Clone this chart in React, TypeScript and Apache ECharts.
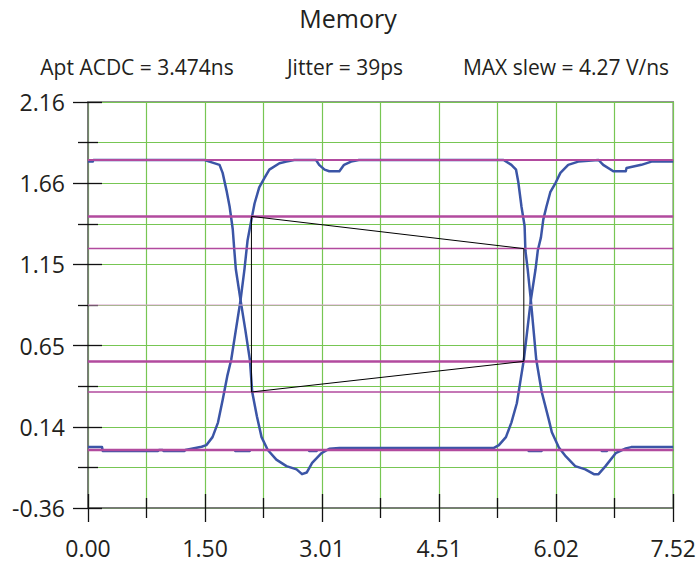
import React, { useEffect, useRef } from 'react';
import * as echarts from 'echarts';

const TITLE = 'Memory';
const SUBTITLES = ['Apt ACDC = 3.474ns', 'Jitter = 39ps', 'MAX slew = 4.27 V/ns'];
const X_TICK_LABELS = ['0.00', '1.50', '3.01', '4.51', '6.02', '7.52'];
const Y_TICK_LABELS = ['-0.36', '0.14', '0.65', '1.15', '1.66', '2.16'];
const X_MIN = 0;
const X_MAX = 7.52;
const X_STEP = 1.504;
const Y_MIN = -0.36;
const Y_MAX = 2.16;
const Y_STEP = 0.504;

// Trace A: high -> falls at first edge -> undershoot -> low -> rises at second edge
const traceAX = [0, 0.06, 0.07, 1.50, 1.56, 1.69, 1.73, 1.78, 1.82, 1.86, 1.88, 1.90, 1.96, 2.02, 2.08, 2.11, 2.17, 2.23, 2.31, 2.42, 2.55, 2.68, 2.75, 2.81, 2.88, 3.00, 3.10, 3.23, 5.21, 5.28, 5.37, 5.44, 5.51, 5.56, 5.60, 5.69, 5.75, 5.78, 5.82, 5.85, 5.89, 5.94, 6.01, 6.07, 6.17, 6.30, 6.56, 6.62, 6.75, 6.91, 6.92, 7.11, 7.24, 7.52];
const traceAY = [1.79, 1.79, 1.80, 1.80, 1.79, 1.77, 1.72, 1.61, 1.51, 1.37, 1.24, 1.12, 0.93, 0.75, 0.56, 0.36, 0.21, 0.08, 0.00, -0.06, -0.10, -0.12, -0.15, -0.14, -0.08, -0.02, 0.008, 0.012, 0.012, 0.03, 0.08, 0.17, 0.29, 0.44, 0.56, 0.93, 1.12, 1.24, 1.32, 1.43, 1.51, 1.60, 1.66, 1.72, 1.77, 1.79, 1.80, 1.77, 1.73, 1.73, 1.75, 1.77, 1.79, 1.79];

// Trace B: low -> rises at first edge -> high -> falls at second edge -> undershoot
const traceBX = [0, 0.18, 0.19, 0.90, 0.91, 0.96, 0.97, 1.24, 1.25, 1.46, 1.52, 1.60, 1.67, 1.73, 1.79, 1.84, 1.96, 2.01, 2.05, 2.10, 2.14, 2.20, 2.27, 2.33, 2.46, 2.55, 2.65, 2.93, 2.97, 3.04, 3.10, 3.23, 3.29, 3.38, 3.48, 5.34, 5.44, 5.50, 5.53, 5.57, 5.61, 5.62, 5.65, 5.69, 5.76, 5.83, 5.92, 5.96, 6.05, 6.14, 6.26, 6.39, 6.50, 6.56, 6.65, 6.78, 6.91, 6.98, 7.52];
const traceBY = [0.018, 0.018, -0.006, -0.006, 0.0, 0.0, -0.006, -0.006, 0.0, 0.02, 0.03, 0.08, 0.17, 0.31, 0.46, 0.56, 0.93, 1.12, 1.30, 1.43, 1.53, 1.63, 1.69, 1.74, 1.78, 1.79, 1.80, 1.80, 1.77, 1.74, 1.73, 1.73, 1.77, 1.79, 1.80, 1.80, 1.77, 1.74, 1.66, 1.51, 1.39, 1.24, 1.12, 0.93, 0.56, 0.36, 0.19, 0.11, 0.015, -0.04, -0.10, -0.12, -0.15, -0.15, -0.10, -0.02, 0.01, 0.018, 0.018];

// Trace C: stays low through the edges
const traceCX = [0, 1.88, 1.89, 2.08, 2.09, 2.83, 2.84, 2.94, 2.95, 5.65, 5.66, 5.83, 5.84, 6.59, 6.60, 6.67, 6.68, 7.52];
const traceCY = [0.0, 0.0, -0.008, -0.008, 0.0, 0.0, -0.008, -0.008, 0.0, 0.0, -0.008, -0.008, 0.0, 0.0, -0.008, -0.008, 0.0, 0.0];

// Threshold levels (V)
const LEVEL_VALUES = [1.80, 1.45, 1.25, 0.90, 0.55, 0.36, 0.00];
const LEVEL_WIDTHS = [2, 2.5, 1.5, 1, 2.5, 1.5, 2.5];

// Aperture polygon
const apertureX = [2.10, 5.60, 5.60, 2.10, 2.10];
const apertureY = [1.45, 1.25, 0.55, 0.36, 1.45];

const FONT = '"Open Sans", "Noto Sans", sans-serif';
const TEXT_COLOR = '#231f20';
const BLUE = '#3b55a6';
const MAGENTA = '#b24a9e';
const GREEN = '#77c653';

const toPts = (xs: number[], ys: number[]) => xs.map((x, i) => [x, ys[i] - Y_MIN]);

export default function App() {
  const ref = useRef<HTMLDivElement>(null);

  useEffect(() => {
    if (!ref.current) return;
    const chart = echarts.init(ref.current, undefined, { renderer: 'svg' });

    const xLabel = (v: number) => {
      const i = Math.round((v - X_MIN) / X_STEP);
      return X_TICK_LABELS[i] ?? '';
    };
    const yLabel = (v: number) => {
      const i = Math.round(v / Y_STEP);
      return Y_TICK_LABELS[i] ?? '';
    };

    const tickStyle = { color: '#111', width: 1.3 };

    const traceSeries = [
      [traceCX, traceCY, 1.8],
      [traceAX, traceAY, 2.5],
      [traceBX, traceBY, 2.5],
    ].map(([xs, ys, w]) => ({
      type: 'line',
      data: toPts(xs as number[], ys as number[]),
      symbol: 'none',
      silent: true,
      z: 2,
      lineStyle: { color: BLUE, width: w as number, join: 'round' },
    }));

    const levelSeries = LEVEL_VALUES.map((v, i) => ({
      type: 'line',
      data: [[X_MIN, v - Y_MIN], [X_MAX, v - Y_MIN]],
      symbol: 'none',
      silent: true,
      z: 3,
      lineStyle: { color: v === 0.9 ? '#d9a3cd' : MAGENTA, width: LEVEL_WIDTHS[i] },
    }));

    const apertureSeries = {
      type: 'line',
      data: toPts(apertureX, apertureY),
      symbol: 'none',
      silent: true,
      z: 4,
      lineStyle: { color: '#000', width: 1 },
    };

    chart.setOption({
      animation: false,
      backgroundColor: '#fff',
      grid: {
        left: 88,
        right: 24,
        top: 102,
        bottom: 56,
        show: true,
        borderColor: '#707070',
        borderWidth: 1.5,
        backgroundColor: 'transparent',
      },
      xAxis: [
        {
          type: 'value',
          position: 'bottom',
          min: X_MIN,
          max: X_MAX,
          interval: X_STEP,
          axisLine: { show: true, onZero: false, lineStyle: { color: '#707070', width: 1.5 } },
          axisTick: { show: true, length: 14, lineStyle: tickStyle },
          minorTick: { show: true, splitNumber: 2, length: 10, lineStyle: tickStyle },
          axisLabel: { show: true, margin: 28, fontSize: 23, fontFamily: FONT, color: TEXT_COLOR, formatter: xLabel, showMinLabel: true, showMaxLabel: true },
          splitLine: { show: true, lineStyle: { color: GREEN, width: 1.2 } },
          minorSplitLine: { show: true, lineStyle: { color: GREEN, width: 1.2 } },
        },
        {
          type: 'value',
          position: 'bottom',
          min: X_MIN,
          max: X_MAX,
          interval: X_STEP,
          axisLine: { show: false, onZero: false },
          axisTick: { show: true, inside: true, length: 14, lineStyle: tickStyle },
          minorTick: { show: true, splitNumber: 2, length: 10, lineStyle: tickStyle },
          axisLabel: { show: false },
          splitLine: { show: false },
        },
      ],
      yAxis: [
        {
          type: 'value',
          position: 'left',
          min: 0,
          max: Y_MAX - Y_MIN,
          interval: Y_STEP,
          axisLine: { show: true, onZero: false, lineStyle: { color: '#707070', width: 1.5 } },
          axisTick: { show: true, length: 15, lineStyle: tickStyle },
          minorTick: { show: true, splitNumber: 2, length: 10, lineStyle: tickStyle },
          axisLabel: { show: true, margin: 23, fontSize: 23, fontFamily: FONT, color: TEXT_COLOR, formatter: yLabel, showMinLabel: true, showMaxLabel: true },
          splitLine: { show: true, lineStyle: { color: GREEN, width: 1.2 } },
          minorSplitLine: { show: true, lineStyle: { color: GREEN, width: 1.2 } },
        },
        {
          type: 'value',
          position: 'left',
          min: 0,
          max: Y_MAX - Y_MIN,
          interval: Y_STEP,
          axisLine: { show: false, onZero: false },
          axisTick: { show: true, inside: true, length: 14, lineStyle: tickStyle },
          minorTick: { show: true, splitNumber: 2, length: 10, lineStyle: tickStyle },
          axisLabel: { show: false },
          splitLine: { show: false },
        },
      ],
      graphic: [
        {
          type: 'text',
          x: 348,
          y: 18,
          style: { text: TITLE, fontSize: 25, fontFamily: FONT, fill: TEXT_COLOR, align: 'center', verticalAlign: 'middle' },
        },
        {
          type: 'text',
          x: 137,
          y: 67,
          style: { text: SUBTITLES[0], fontSize: 21, fontFamily: FONT, fill: TEXT_COLOR, align: 'center', verticalAlign: 'middle' },
        },
        {
          type: 'text',
          x: 345,
          y: 67,
          style: { text: SUBTITLES[1], fontSize: 21, fontFamily: FONT, fill: TEXT_COLOR, align: 'center', verticalAlign: 'middle' },
        },
        {
          type: 'text',
          x: 566,
          y: 67,
          style: { text: SUBTITLES[2], fontSize: 21, fontFamily: FONT, fill: TEXT_COLOR, align: 'center', verticalAlign: 'middle' },
        },
      ],
      series: [...traceSeries, ...levelSeries, apertureSeries],
    });

    return () => chart.dispose();
  }, []);

  return (
    <div
      ref={ref}
      style={{ position: 'fixed', left: 0, top: 0, width: 699, height: 564 }}
    />
  );
}
